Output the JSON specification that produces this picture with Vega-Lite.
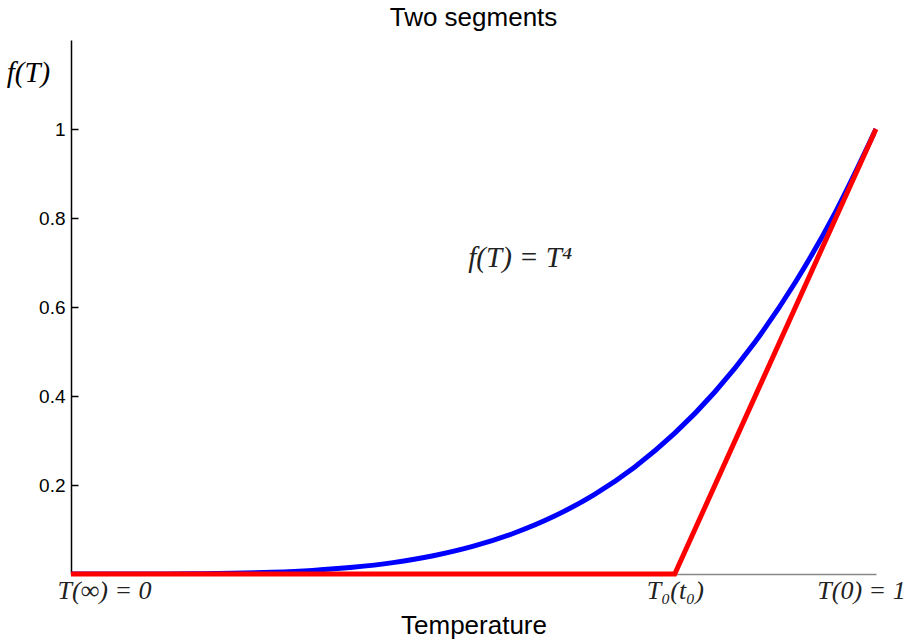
{
  "$schema": "https://vega.github.io/schema/vega-lite/v6.json",
  "width": 805,
  "height": 534,
  "autosize": "none",
  "padding": {"left": 71, "top": 40, "right": 40, "bottom": 70},
  "background": "white",
  "config": {"view": {"stroke": null}},
  "title": {"text": "Two segments", "font": "Liberation Sans", "fontSize": 26, "fontWeight": "normal", "color": "black", "anchor": "middle", "offset": 9},
  "datasets": {
    "curves": [
      {"series": "f", "T": 0, "v": 0},
      {"series": "f", "T": 0.05, "v": 0.00000625},
      {"series": "f", "T": 0.1, "v": 0.0001},
      {"series": "f", "T": 0.15, "v": 0.00050625},
      {"series": "f", "T": 0.2, "v": 0.0016},
      {"series": "f", "T": 0.25, "v": 0.00390625},
      {"series": "f", "T": 0.3, "v": 0.0081},
      {"series": "f", "T": 0.35, "v": 0.01500625},
      {"series": "f", "T": 0.4, "v": 0.0256},
      {"series": "f", "T": 0.45, "v": 0.04100625},
      {"series": "f", "T": 0.5, "v": 0.0625},
      {"series": "f", "T": 0.55, "v": 0.09150625},
      {"series": "f", "T": 0.6, "v": 0.1296},
      {"series": "f", "T": 0.65, "v": 0.17850625},
      {"series": "f", "T": 0.7, "v": 0.2401},
      {"series": "f", "T": 0.75, "v": 0.31640625},
      {"series": "f", "T": 0.8, "v": 0.4096},
      {"series": "f", "T": 0.85, "v": 0.52200625},
      {"series": "f", "T": 0.9, "v": 0.6561},
      {"series": "f", "T": 0.95, "v": 0.81450625},
      {"series": "f", "T": 1, "v": 1},
      {"series": "seg", "T": 0, "v": 0},
      {"series": "seg", "T": 0.75, "v": 0},
      {"series": "seg", "T": 1, "v": 1}
    ],
    "notes": [
      {"T": 0.558, "v": 0.71, "label": "f(T) = T⁴"}
    ]
  },
  "layer": [
    {
      "data": {"name": "curves"},
      "transform": [{"filter": "datum.series == 'f'"}],
      "mark": {"type": "line", "color": "#0000ff", "strokeWidth": 5, "interpolate": "monotone", "clip": true},
      "encoding": {
        "x": {"field": "T", "type": "quantitative", "scale": {"domain": [0, 1], "nice": false},
          "axis": {
            "values": [0, 0.75, 1],
            "labelExpr": "datum.value == 0 ? 'T(∞) = 0' : datum.value == 1 ? 'T(0) = 1' : 'T₀(t₀)'",
            "labelFont": "Liberation Serif", "labelFontStyle": "italic", "labelFontSize": 26, "labelColor": "#222",
            "labelFlush": false,
            "labelOffset": {"condition": [{"test": "datum.value == 0", "value": 33}, {"test": "datum.value == 1", "value": -15}], "value": 0},
            "ticks": false, "labelPadding": 3, "domainColor": "#888", "domainWidth": 1.5, "grid": false,
            "title": "Temperature", "titleFont": "Liberation Sans", "titleFontSize": 26, "titleFontWeight": "normal", "titleColor": "black", "titlePadding": 9
          }},
        "y": {"field": "v", "type": "quantitative", "scale": {"domain": [0, 1.2], "nice": false},
          "axis": {
            "values": [0.2, 0.4, 0.6, 0.8, 1], "format": "~g",
            "labelFont": "Liberation Sans", "labelFontSize": 19, "labelColor": "black",
            "tickSize": -7, "tickColor": "black", "tickWidth": 1.5, "labelPadding": 13,
            "domainColor": "black", "domainWidth": 1.5, "grid": false,
            "title": "f(T)", "titleFont": "Liberation Serif", "titleFontStyle": "italic", "titleFontSize": 29, "titleFontWeight": "normal", "titleColor": "black",
            "titleAngle": 0, "titleAlign": "center", "titleBaseline": "middle", "titleX": -43, "titleY": 32
          }}
      }
    },
    {
      "data": {"name": "curves"},
      "transform": [{"filter": "datum.series == 'seg'"}],
      "mark": {"type": "line", "color": "#ff0000", "strokeWidth": 5},
      "encoding": {
        "x": {"field": "T", "type": "quantitative"},
        "y": {"field": "v", "type": "quantitative"}
      }
    },
    {
      "data": {"name": "notes"},
      "mark": {"type": "text", "font": "Liberation Serif", "fontStyle": "italic", "fontSize": 29, "color": "#222"},
      "encoding": {
        "x": {"field": "T", "type": "quantitative"},
        "y": {"field": "v", "type": "quantitative"},
        "text": {"field": "label"}
      }
    }
  ]
}
